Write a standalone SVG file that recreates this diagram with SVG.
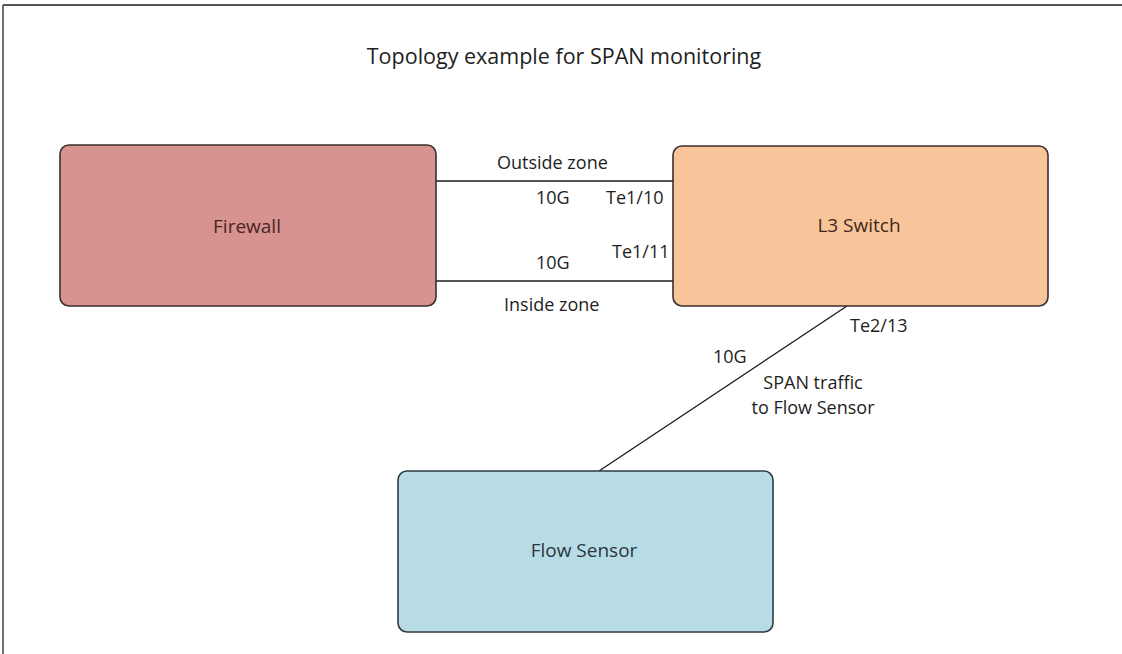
<svg xmlns="http://www.w3.org/2000/svg" width="1122" height="654" viewBox="0 0 1122 654">
<style>
text{font-family:"Open Sans","Liberation Sans",sans-serif;fill:#1e1e1e}
.lbl{font-size:18px}
.node{stroke:#3b2e2e;stroke-width:1.6}
.nt{font-size:19px;text-anchor:middle}
.conn{stroke:#1a1a1a;stroke-width:1.3;fill:none}
</style>
<rect x="0" y="0" width="1122" height="654" fill="#ffffff"/>
<line x1="3" y1="5" x2="1122" y2="5" stroke="#555" stroke-width="2.2"/>
<line x1="3" y1="5" x2="3" y2="654" stroke="#333" stroke-width="1.4"/>
<text x="564" y="64" font-size="21.5" text-anchor="middle">Topology example for SPAN monitoring</text>
<g id="connectors">
<line class="conn" x1="436" y1="181" x2="673" y2="181"/>
<line class="conn" x1="436" y1="281" x2="673" y2="281"/>
<line class="conn" x1="847" y1="306" x2="599" y2="471"/>
</g>
<g id="firewall">
<rect class="node" x="60" y="145" width="376" height="161" rx="9" fill="#d7938f"/>
<text class="nt" x="247" y="233" style="fill:#4a2424">Firewall</text>
</g>
<g id="l3switch">
<rect class="node" x="673" y="146" width="375" height="160" rx="9" fill="#f8c49a"/>
<text class="nt" x="859" y="232" style="fill:#43261a">L3 Switch</text>
</g>
<g id="flowsensor">
<rect class="node" x="398" y="471" width="375" height="161" rx="9" fill="#b8dce6" style="stroke:#2f3a40"/>
<text class="nt" x="584" y="557" style="fill:#2b3640">Flow Sensor</text>
</g>
<g id="labels">
<text class="lbl" x="497" y="169">Outside zone</text>
<text class="lbl" x="536" y="204">10G</text>
<text class="lbl" x="606" y="204">Te1/10</text>
<text class="lbl" x="612" y="258">Te1/11</text>
<text class="lbl" x="536" y="269">10G</text>
<text class="lbl" x="504" y="311">Inside zone</text>
<text class="lbl" x="850" y="332">Te2/13</text>
<text class="lbl" x="713" y="363">10G</text>
<text class="lbl" x="813" y="389" text-anchor="middle">SPAN traffic</text>
<text class="lbl" x="813" y="414" text-anchor="middle">to Flow Sensor</text>
</g>
</svg>
